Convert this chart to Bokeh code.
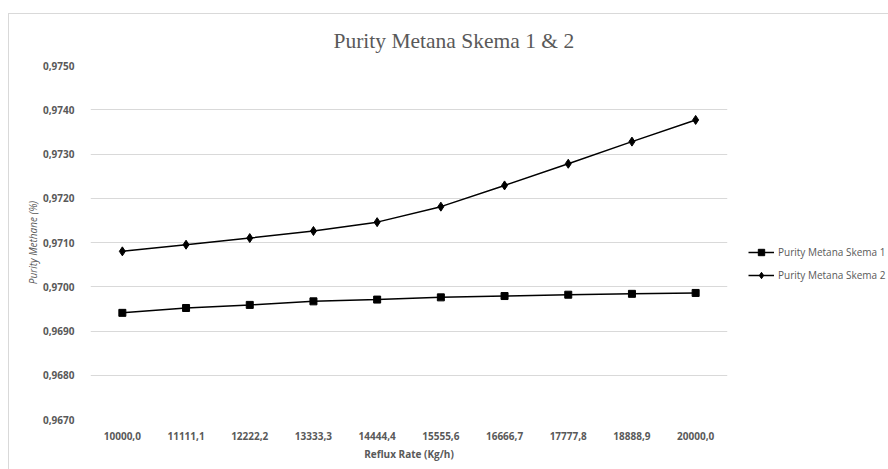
from bokeh.plotting import figure
from bokeh.layouts import row
from bokeh.models import FactorRange, Range1d, FixedTicker, Legend, LegendItem
from bokeh.embed import file_html
from bokeh.resources import INLINE

categories = ["10000,0", "11111,1", "12222,2", "13333,3", "14444,4",
              "15555,6", "16666,7", "17777,8", "18888,9", "20000,0"]
skema1 = [0.96941, 0.96952, 0.96959, 0.96967, 0.96971,
          0.96976, 0.96979, 0.96982, 0.96984, 0.96986]
skema2 = [0.97080, 0.97095, 0.97110, 0.97126, 0.97146,
          0.97181, 0.97229, 0.97278, 0.97328, 0.97377]
y_ticks = [0.9670, 0.9680, 0.9690, 0.9700, 0.9710, 0.9720, 0.9730, 0.9740, 0.9750]
y_tick_labels = ["0,9670", "0,9680", "0,9690", "0,9700", "0,9710",
                 "0,9720", "0,9730", "0,9740", "0,9750"]
series_names = ["Purity Metana Skema 1", "Purity Metana Skema 2"]

GRAY = "#595959"
FONT = "Open Sans"

x_range = FactorRange(*categories)
y_range = Range1d(0.9670, 0.9750)

p = figure(width=728, height=455, output_backend="svg", toolbar_location=None,
           x_range=x_range, y_range=y_range,
           min_border_left=81, min_border_right=10, min_border_top=50,
           min_border_bottom=50)
p.outline_line_color = None
p.background_fill_color = "white"
p.border_fill_color = "white"

p.title.text = "Purity Metana Skema 1 & 2"
p.title.text_font = "Liberation Serif"
p.title.text_font_size = "21.5px"
p.title.text_font_style = "normal"
p.title.text_color = GRAY
p.title.align = "left"
p.title.vertical_align = "bottom"
p.title.offset = 243
p.title.standoff = 25

# axes
p.xaxis.axis_line_color = None
p.xaxis.major_tick_line_color = None
p.xaxis.minor_tick_line_color = None
p.xaxis.major_label_text_font = FONT
p.xaxis.major_label_text_font_style = "bold"
p.xaxis.major_label_text_font_size = "10px"
p.xaxis.major_label_text_color = GRAY
p.xaxis.major_label_standoff = 6
p.xaxis.axis_label = "Reflux Rate (Kg/h)"
p.xaxis.axis_label_text_font = FONT
p.xaxis.axis_label_text_font_style = "bold"
p.xaxis.axis_label_text_font_size = "10px"
p.xaxis.axis_label_text_color = GRAY
p.xaxis.axis_label_standoff = 4

p.yaxis.ticker = FixedTicker(ticks=y_ticks)
p.yaxis.major_label_overrides = dict(zip(y_ticks, y_tick_labels))
p.yaxis.axis_line_color = None
p.yaxis.major_tick_line_color = None
p.yaxis.minor_tick_line_color = None
p.yaxis.major_label_text_font = FONT
p.yaxis.major_label_text_font_style = "bold"
p.yaxis.major_label_text_font_size = "10px"
p.yaxis.major_label_text_color = GRAY
p.yaxis.major_label_standoff = 10
p.yaxis.axis_label = "Purity Methane (%)"
p.yaxis.axis_label_text_font = FONT
p.yaxis.axis_label_text_font_style = "italic"
p.yaxis.axis_label_text_font_size = "10px"
p.yaxis.axis_label_text_color = GRAY
p.yaxis.axis_label_standoff = 0

p.xgrid.grid_line_color = None
p.ygrid.grid_line_color = "#d9d9d9"
p.ygrid.grid_line_width = 1

line_kw = dict(line_color="black", line_width=1.5)
sq_kw = dict(marker="square", size=7, fill_color="black", line_color="black")
di_kw = dict(marker="diamond", size=9, fill_color="black", line_color="black")

p.line(categories, skema1, **line_kw)
p.scatter(categories, skema1, **sq_kw)
p.line(categories, skema2, **line_kw)
p.scatter(categories, skema2, **di_kw)

# legend panel: a separate figure to the right, with hidden copies of the series
p2 = figure(width=151, height=455, output_backend="svg", toolbar_location=None,
            x_range=x_range, y_range=y_range,
            min_border_left=0, min_border_right=0,
            min_border_top=50, min_border_bottom=50)
p2.axis.visible = False
p2.grid.visible = False
p2.outline_line_color = None
p2.border_fill_color = "white"
r1l = p2.line(categories, skema1, visible=False, **line_kw)
r1m = p2.scatter(categories, skema1, visible=False, **sq_kw)
r2l = p2.line(categories, skema2, visible=False, **line_kw)
r2m = p2.scatter(categories, skema2, visible=False, **di_kw)

legend = Legend(items=[LegendItem(label=series_names[0], renderers=[r1l, r1m]),
                       LegendItem(label=series_names[1], renderers=[r2l, r2m])],
                location=(11, 136), orientation="vertical",
                label_text_font=FONT, label_text_font_size="10px", label_text_color=GRAY,
                glyph_width=26, glyph_height=16, label_height=16, label_standoff=4,
                spacing=7, padding=0, margin=0, border_line_color=None,
                background_fill_alpha=0, inactive_fill_alpha=0)
p2.add_layout(legend, "center")

layout = row(p, p2, spacing=0)
layout.margin = (13, 0, 0, 8)
layout.styles = {"border-top": "1px solid #d9d9d9", "border-left": "1px solid #d9d9d9"}

open("out.html", "w").write(file_html(layout, INLINE))
